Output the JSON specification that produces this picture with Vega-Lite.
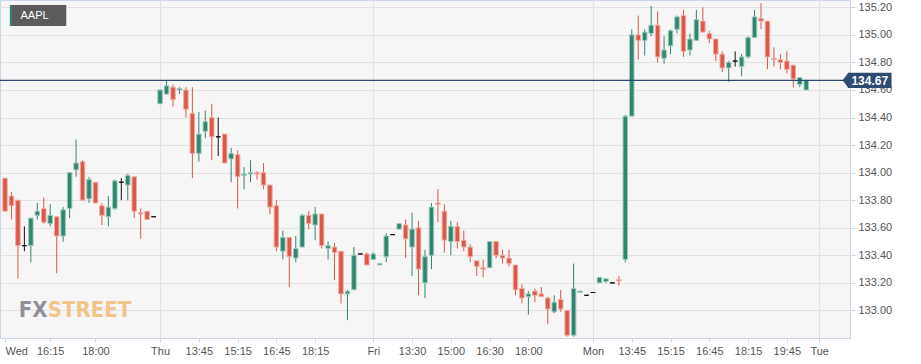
{
  "$schema": "https://vega.github.io/schema/vega-lite/v6.json",
  "width": 850,
  "height": 338,
  "padding": {"left": 0, "top": 0, "right": 71, "bottom": 26},
  "autosize": {"type": "none"},
  "background": "#ffffff",
  "config": {
    "view": {"fill": "#f6f6f6", "stroke": "#ccd6eb", "strokeWidth": 1},
    "font": "Liberation Sans",
    "axis": {"domain": false, "labelFont": "Liberation Sans", "labelFontSize": 11, "labelColor": "#555555", "tickColor": "#ccd6eb", "gridColor": "#e2e2e2", "gridWidth": 1}
  },
  "resolve": {"axis": {"x": "independent", "y": "independent"}},
  "datasets": {
    "candles": [
      {"i":0,"o":133.96,"h":133.96,"l":133.72,"c":133.72},
      {"i":1,"o":133.83,"h":133.86,"l":133.66,"c":133.76},
      {"i":2,"o":133.80,"h":133.80,"l":133.23,"c":133.47},
      {"i":3,"o":133.47,"h":133.61,"l":133.43,"c":133.47},
      {"i":4,"o":133.47,"h":133.67,"l":133.35,"c":133.67},
      {"i":5,"o":133.69,"h":133.78,"l":133.66,"c":133.72},
      {"i":6,"o":133.74,"h":133.82,"l":133.63,"c":133.64},
      {"i":7,"o":133.63,"h":133.77,"l":133.61,"c":133.69},
      {"i":8,"o":133.68,"h":133.68,"l":133.27,"c":133.54},
      {"i":9,"o":133.54,"h":133.75,"l":133.50,"c":133.73},
      {"i":10,"o":133.74,"h":134.00,"l":133.67,"c":134.00},
      {"i":11,"o":134.02,"h":134.24,"l":133.97,"c":134.07},
      {"i":12,"o":134.08,"h":134.09,"l":133.80,"c":133.80},
      {"i":13,"o":133.81,"h":133.97,"l":133.78,"c":133.95},
      {"i":14,"o":133.93,"h":133.93,"l":133.78,"c":133.78},
      {"i":15,"o":133.76,"h":133.78,"l":133.62,"c":133.69},
      {"i":16,"o":133.68,"h":133.83,"l":133.61,"c":133.75},
      {"i":17,"o":133.74,"h":133.95,"l":133.73,"c":133.94},
      {"i":18,"o":133.93,"h":133.96,"l":133.80,"c":133.93},
      {"i":19,"o":133.91,"h":133.99,"l":133.80,"c":133.98},
      {"i":20,"o":133.97,"h":133.97,"l":133.67,"c":133.72},
      {"i":21,"o":133.71,"h":133.74,"l":133.52,"c":133.70},
      {"i":22,"o":133.72,"h":133.72,"l":133.66,"c":133.66},
      {"i":23,"o":133.68,"h":133.68,"l":133.68,"c":133.68},
      {"i":24,"o":134.50,"h":134.60,"l":134.50,"c":134.60},
      {"i":25,"o":134.57,"h":134.67,"l":134.57,"c":134.63},
      {"i":26,"o":134.62,"h":134.64,"l":134.48,"c":134.53},
      {"i":27,"o":134.60,"h":134.62,"l":134.57,"c":134.61},
      {"i":28,"o":134.60,"h":134.62,"l":134.40,"c":134.46},
      {"i":29,"o":134.43,"h":134.62,"l":133.96,"c":134.14},
      {"i":30,"o":134.14,"h":134.44,"l":134.08,"c":134.28},
      {"i":31,"o":134.30,"h":134.45,"l":134.25,"c":134.37},
      {"i":32,"o":134.40,"h":134.50,"l":134.09,"c":134.26},
      {"i":33,"o":134.26,"h":134.40,"l":134.12,"c":134.26},
      {"i":34,"o":134.28,"h":134.28,"l":134.07,"c":134.07},
      {"i":35,"o":134.10,"h":134.18,"l":133.93,"c":134.14},
      {"i":36,"o":134.13,"h":134.16,"l":133.74,"c":133.97},
      {"i":37,"o":133.98,"h":134.04,"l":133.88,"c":133.99},
      {"i":38,"o":133.99,"h":134.09,"l":133.93,"c":134.00},
      {"i":39,"o":134.00,"h":134.01,"l":133.95,"c":133.99},
      {"i":40,"o":134.00,"h":134.07,"l":133.88,"c":133.91},
      {"i":41,"o":133.91,"h":133.91,"l":133.70,"c":133.75},
      {"i":42,"o":133.76,"h":133.80,"l":133.43,"c":133.46},
      {"i":43,"o":133.43,"h":133.58,"l":133.37,"c":133.53},
      {"i":44,"o":133.53,"h":133.53,"l":133.17,"c":133.39},
      {"i":45,"o":133.38,"h":133.54,"l":133.35,"c":133.45},
      {"i":46,"o":133.46,"h":133.70,"l":133.46,"c":133.69},
      {"i":47,"o":133.69,"h":133.72,"l":133.59,"c":133.63},
      {"i":48,"o":133.62,"h":133.75,"l":133.51,"c":133.70},
      {"i":49,"o":133.70,"h":133.70,"l":133.45,"c":133.47},
      {"i":50,"o":133.45,"h":133.50,"l":133.37,"c":133.47},
      {"i":51,"o":133.46,"h":133.49,"l":133.22,"c":133.42},
      {"i":52,"o":133.43,"h":133.43,"l":133.05,"c":133.12},
      {"i":53,"o":133.12,"h":133.15,"l":132.93,"c":133.14},
      {"i":54,"o":133.15,"h":133.46,"l":133.15,"c":133.40},
      {"i":55,"o":133.41,"h":133.41,"l":133.41,"c":133.41},
      {"i":56,"o":133.41,"h":133.42,"l":133.33,"c":133.33},
      {"i":57,"o":133.37,"h":133.42,"l":133.37,"c":133.41},
      {"i":58,"o":133.33,"h":133.34,"l":133.33,"c":133.34},
      {"i":59,"o":133.39,"h":133.56,"l":133.35,"c":133.54},
      {"i":60,"o":133.55,"h":133.55,"l":133.55,"c":133.55},
      {"i":61,"o":133.59,"h":133.63,"l":133.59,"c":133.63},
      {"i":62,"o":133.62,"h":133.66,"l":133.38,"c":133.52},
      {"i":63,"o":133.46,"h":133.71,"l":133.25,"c":133.59},
      {"i":64,"o":133.60,"h":133.65,"l":133.11,"c":133.30},
      {"i":65,"o":133.20,"h":133.44,"l":133.09,"c":133.39},
      {"i":66,"o":133.40,"h":133.78,"l":133.30,"c":133.75},
      {"i":67,"o":133.78,"h":133.88,"l":133.64,"c":133.77},
      {"i":68,"o":133.72,"h":133.77,"l":133.42,"c":133.51},
      {"i":69,"o":133.50,"h":133.65,"l":133.40,"c":133.61},
      {"i":70,"o":133.61,"h":133.64,"l":133.45,"c":133.50},
      {"i":71,"o":133.51,"h":133.58,"l":133.43,"c":133.46},
      {"i":72,"o":133.46,"h":133.48,"l":133.35,"c":133.39},
      {"i":73,"o":133.36,"h":133.36,"l":133.25,"c":133.32},
      {"i":74,"o":133.31,"h":133.37,"l":133.24,"c":133.30},
      {"i":75,"o":133.31,"h":133.50,"l":133.31,"c":133.50},
      {"i":76,"o":133.50,"h":133.50,"l":133.38,"c":133.40},
      {"i":77,"o":133.40,"h":133.44,"l":133.34,"c":133.38},
      {"i":78,"o":133.38,"h":133.44,"l":133.32,"c":133.34},
      {"i":79,"o":133.33,"h":133.33,"l":133.11,"c":133.15},
      {"i":80,"o":133.16,"h":133.19,"l":133.05,"c":133.09},
      {"i":81,"o":133.10,"h":133.14,"l":132.97,"c":133.12},
      {"i":82,"o":133.14,"h":133.16,"l":133.06,"c":133.11},
      {"i":83,"o":133.12,"h":133.17,"l":133.10,"c":133.10},
      {"i":84,"o":133.09,"h":133.10,"l":132.90,"c":133.01},
      {"i":85,"o":132.99,"h":133.11,"l":132.98,"c":133.06},
      {"i":86,"o":133.08,"h":133.15,"l":132.99,"c":133.01},
      {"i":87,"o":133.00,"h":133.00,"l":132.81,"c":132.82},
      {"i":88,"o":132.82,"h":133.34,"l":132.81,"c":133.16},
      {"i":89,"o":133.13,"h":133.14,"l":133.13,"c":133.14},
      {"i":90,"o":133.11,"h":133.11,"l":133.11,"c":133.11},
      {"i":91,"o":133.13,"h":133.13,"l":133.13,"c":133.13},
      {"i":92,"o":133.20,"h":133.24,"l":133.20,"c":133.24},
      {"i":93,"o":133.21,"h":133.23,"l":133.20,"c":133.23},
      {"i":94,"o":133.20,"h":133.20,"l":133.20,"c":133.20},
      {"i":95,"o":133.225,"h":133.25,"l":133.18,"c":133.215},
      {"i":96,"o":133.37,"h":134.42,"l":133.35,"c":134.41},
      {"i":97,"o":134.41,"h":135.04,"l":134.41,"c":135.00},
      {"i":98,"o":135.00,"h":135.14,"l":134.82,"c":134.96},
      {"i":99,"o":134.96,"h":135.04,"l":134.85,"c":135.02},
      {"i":100,"o":135.01,"h":135.21,"l":134.99,"c":135.07},
      {"i":101,"o":135.07,"h":135.17,"l":134.80,"c":134.84},
      {"i":102,"o":134.83,"h":134.99,"l":134.79,"c":134.89},
      {"i":103,"o":134.92,"h":135.04,"l":134.86,"c":135.03},
      {"i":104,"o":135.04,"h":135.14,"l":135.01,"c":135.13},
      {"i":105,"o":135.14,"h":135.18,"l":134.84,"c":134.88},
      {"i":106,"o":134.89,"h":135.01,"l":134.85,"c":134.97},
      {"i":107,"o":134.96,"h":135.18,"l":134.96,"c":135.11},
      {"i":108,"o":135.10,"h":135.20,"l":135.02,"c":135.02},
      {"i":109,"o":135.01,"h":135.03,"l":134.94,"c":134.97},
      {"i":110,"o":134.97,"h":134.97,"l":134.81,"c":134.86},
      {"i":111,"o":134.86,"h":134.88,"l":134.73,"c":134.76},
      {"i":112,"o":134.76,"h":134.81,"l":134.66,"c":134.80},
      {"i":113,"o":134.81,"h":134.88,"l":134.77,"c":134.81},
      {"i":114,"o":134.77,"h":134.86,"l":134.70,"c":134.84},
      {"i":115,"o":134.84,"h":134.99,"l":134.83,"c":134.98},
      {"i":116,"o":134.98,"h":135.18,"l":134.98,"c":135.13},
      {"i":117,"o":135.12,"h":135.23,"l":135.04,"c":135.10},
      {"i":118,"o":135.10,"h":135.10,"l":134.75,"c":134.84},
      {"i":119,"o":134.83,"h":134.91,"l":134.77,"c":134.82},
      {"i":120,"o":134.82,"h":134.86,"l":134.75,"c":134.80},
      {"i":121,"o":134.81,"h":134.88,"l":134.72,"c":134.75},
      {"i":122,"o":134.78,"h":134.78,"l":134.62,"c":134.68},
      {"i":123,"o":134.64,"h":134.69,"l":134.62,"c":134.69},
      {"i":124,"o":134.60,"h":134.67,"l":134.60,"c":134.67}
    ],
    "last": [{"price": 134.67, "label": "134.67"}],
    "ticker": [{"name": "AAPL"}]
  },
  "layer": [
    {
      "data": {"name": "candles"},
      "mark": {"type": "rule", "strokeWidth": 1},
      "encoding": {
        "x": {
          "field": "i", "type": "quantitative", "title": null,
          "scale": {"domain": [0, 130], "nice": false, "zero": false},
          "axis": {
            "orient": "bottom", "title": null,
            "values": [0,7,14,24,30,36,42,48,57,63,69,75,81,91,97,103,109,115,121,126],
            "labelExpr": "['Wed','16:15','18:00','Thu','13:45','15:15','16:45','18:15','Fri','13:30','15:00','16:30','18:00','Mon','13:45','15:15','16:45','18:15','19:45','Tue'][indexof([0,7,14,24,30,36,42,48,57,63,69,75,81,91,97,103,109,115,121,126], datum.value)]",
            "labelFlush": false, "labelOverlap": false,
            "labelAlign": {"condition": {"test": "datum.value === 0", "value": "left"}, "value": "center"},
            "tickSize": 4, "labelPadding": 3,
            "grid": true,
            "gridOpacity": {"condition": {"test": "indexof([24,57,91,126], datum.value) >= 0", "value": 1}, "value": 0}
          }
        },
        "y": {
          "field": "l", "type": "quantitative", "title": null,
          "scale": {"domain": [132.8, 135.253], "nice": false, "zero": false},
          "axis": {
            "orient": "right", "title": null,
            "values": [133.0,133.2,133.4,133.6,133.8,134.0,134.2,134.4,134.6,134.8,135.0,135.2],
            "format": ".2f", "tickSize": 5, "labelPadding": 3, "grid": true, "labelOverlap": false
          }
        },
        "y2": {"field": "h"},
        "color": {
          "condition": [
            {"test": "datum.c > datum.o", "value": "#2e8570"},
            {"test": "datum.c < datum.o", "value": "#d9584a"}
          ],
          "value": "#111111"
        }
      }
    },
    {
      "data": {"name": "ticker"},
      "mark": {"type": "text", "align": "right", "baseline": "alphabetic", "font": "DejaVu Sans Condensed, DejaVu Sans", "fontWeight": "bold", "fontSize": 22, "color": "#8e9098", "text": "FX"},
      "encoding": {
        "x": {"datum": 6.6, "type": "quantitative", "axis": null},
        "y": {"datum": 132.95, "type": "quantitative", "axis": null}
      }
    },
    {
      "data": {"name": "ticker"},
      "mark": {"type": "text", "align": "left", "baseline": "alphabetic", "font": "DejaVu Sans Condensed, DejaVu Sans", "fontWeight": "bold", "fontSize": 22, "color": "#f2c48a", "text": "STREET"},
      "encoding": {
        "x": {"datum": 6.6, "type": "quantitative", "axis": null},
        "y": {"datum": 132.95, "type": "quantitative", "axis": null}
      }
    },
    {
      "data": {"name": "candles"},
      "mark": {"type": "bar", "width": 4.5, "strokeWidth": 1},
      "encoding": {
        "x": {"field": "i", "type": "quantitative", "axis": null},
        "y": {"field": "o", "type": "quantitative", "axis": null},
        "y2": {"field": "c"},
        "fill": {
          "condition": [
            {"test": "datum.c > datum.o", "value": "#2e8570"},
            {"test": "datum.c < datum.o", "value": "#d9584a"}
          ],
          "value": "#111111"
        },
        "stroke": {
          "condition": [
            {"test": "datum.c > datum.o", "value": "#9ccabb"},
            {"test": "datum.c < datum.o", "value": "#f2aca4"}
          ],
          "value": "#111111"
        }
      }
    },
    {
      "data": {"name": "last"},
      "mark": {"type": "rule", "color": "#2b4a72", "strokeWidth": 1.3},
      "encoding": {
        "y": {"field": "price", "type": "quantitative", "axis": null}
      }
    },
    {
      "data": {"name": "last"},
      "mark": {"type": "rect", "color": "#2d4a70"},
      "encoding": {
        "x": {"datum": 130.45, "type": "quantitative", "axis": null},
        "x2": {"datum": 137.2},
        "y": {"datum": 134.725, "type": "quantitative", "axis": null},
        "y2": {"datum": 134.615}
      }
    },
    {
      "data": {"name": "last"},
      "mark": {"type": "point", "filled": true, "opacity": 1, "color": "#2d4a70", "shape": "M-0.7,0L0.05,-1L0.05,1Z", "size": 225},
      "encoding": {
        "x": {"datum": 130.45, "type": "quantitative", "axis": null},
        "y": {"field": "price", "type": "quantitative", "axis": null}
      }
    },
    {
      "data": {"name": "last"},
      "mark": {"type": "text", "color": "#ffffff", "fontWeight": "bold", "fontSize": 12, "font": "Liberation Sans", "align": "center", "baseline": "middle", "dy": 1},
      "encoding": {
        "x": {"datum": 133.83, "type": "quantitative", "axis": null},
        "y": {"field": "price", "type": "quantitative", "axis": null},
        "text": {"field": "label"}
      }
    },
    {
      "data": {"name": "ticker"},
      "mark": {"type": "rect", "color": "#5b5b5b"},
      "encoding": {
        "x": {"datum": 0.765, "type": "quantitative", "axis": null},
        "x2": {"datum": 9.48},
        "y": {"datum": 135.217, "type": "quantitative", "axis": null},
        "y2": {"datum": 135.064}
      }
    },
    {
      "data": {"name": "ticker"},
      "mark": {"type": "rect", "color": "#2e8570"},
      "encoding": {
        "x": {"datum": 0.765, "type": "quantitative", "axis": null},
        "x2": {"datum": 1.07},
        "y": {"datum": 135.217, "type": "quantitative", "axis": null},
        "y2": {"datum": 135.064}
      }
    },
    {
      "data": {"name": "ticker"},
      "mark": {"type": "text", "color": "#ffffff", "fontSize": 11, "font": "Liberation Sans", "align": "left", "baseline": "middle"},
      "encoding": {
        "x": {"datum": 2.4, "type": "quantitative", "axis": null},
        "y": {"datum": 135.14, "type": "quantitative", "axis": null},
        "text": {"field": "name"}
      }
    }
  ]
}
